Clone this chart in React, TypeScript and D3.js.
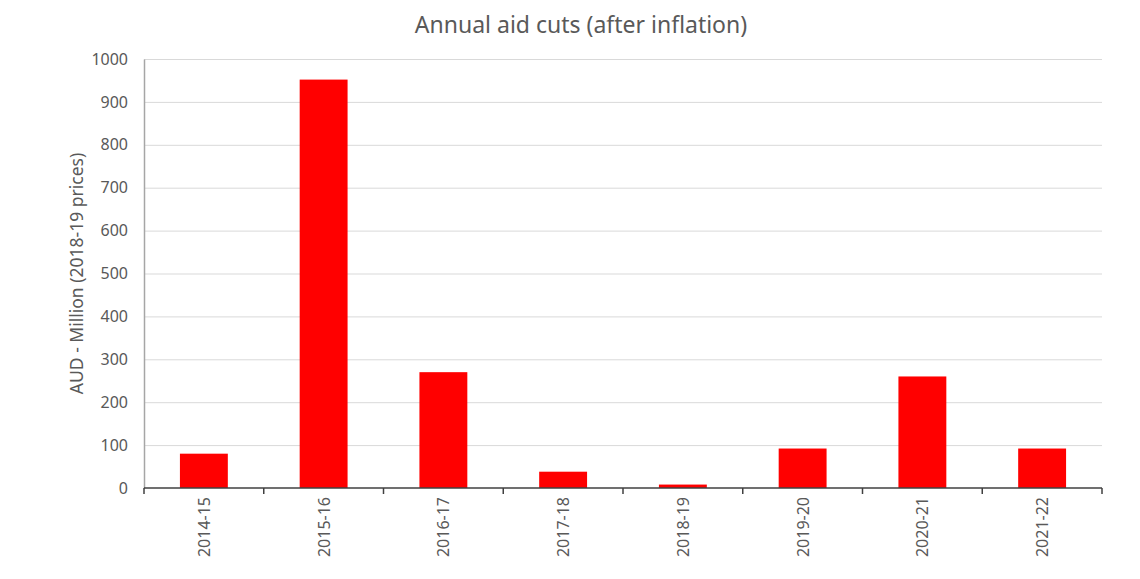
import React, { useEffect, useRef } from "react";
import * as d3 from "d3";

const years = ["2014-15", "2015-16", "2016-17", "2017-18", "2018-19", "2019-20", "2020-21", "2021-22"];
const cuts = [80, 952, 270, 38, 8, 92, 260, 92];
const yTicks = [0, 100, 200, 300, 400, 500, 600, 700, 800, 900, 1000];

const W = 1140;
const H = 579;
const margin = { top: 59, right: 38, bottom: 91, left: 144 };
const font = "'Noto Sans', sans-serif";

function App() {
  const ref = useRef<SVGSVGElement>(null);

  useEffect(() => {
    if (!ref.current) return;
    const svg = d3.select(ref.current);
    svg.selectAll("*").remove();

    const x = d3
      .scaleBand()
      .domain(years)
      .range([margin.left, W - margin.right])
      .paddingInner(0.6)
      .paddingOuter(0.3);

    const y = d3
      .scaleLinear()
      .domain([0, 1000])
      .range([H - margin.bottom, margin.top]);

    // gridlines
    svg
      .append("g")
      .selectAll("line")
      .data(yTicks.filter((t) => t > 0))
      .join("line")
      .attr("x1", margin.left)
      .attr("x2", W - margin.right)
      .attr("y1", (d) => y(d) + 0.5)
      .attr("y2", (d) => y(d) + 0.5)
      .attr("stroke", "#d9d9d9")
      .attr("stroke-width", 1);

    // y axis
    const yAxis = svg
      .append("g")
      .attr("transform", `translate(${margin.left},0)`)
      .call(d3.axisLeft(y).tickValues(yTicks).tickFormat(d3.format("d")).tickSize(0).tickPadding(16));
    yAxis.select(".domain").attr("stroke", "#a6a6a6").attr("stroke-width", 1.5);
    yAxis.selectAll("text").style("font", `16px ${font}`).attr("fill", "#595959");

    // bars
    svg
      .append("g")
      .selectAll("rect")
      .data(years)
      .join("rect")
      .attr("x", (d) => x(d)!)
      .attr("width", x.bandwidth())
      .attr("y", (d, i) => y(cuts[i]))
      .attr("height", (d, i) => y(0) - y(cuts[i]))
      .attr("fill", "#ff0000");

    // x axis
    const step = x.step();
    const xg = svg.append("g").attr("transform", `translate(0,${y(0)})`);
    xg.append("line")
      .attr("x1", margin.left)
      .attr("x2", W - margin.right)
      .attr("stroke", "#404040")
      .attr("stroke-width", 1.5);
    xg.selectAll("line.tick")
      .data(d3.range(years.length + 1))
      .join("line")
      .attr("class", "tick")
      .attr("x1", (i) => margin.left + i * step)
      .attr("x2", (i) => margin.left + i * step)
      .attr("y1", 0)
      .attr("y2", 6)
      .attr("stroke", "#404040")
      .attr("stroke-width", 1.5);
    xg.selectAll("text")
      .data(years)
      .join("text")
      .attr("transform", (d) => `translate(${x(d)! + x.bandwidth() / 2 + 6},9) rotate(-90)`)
      .attr("text-anchor", "end")
      .style("font", `16px ${font}`)
      .attr("fill", "#595959")
      .text((d) => d);

    // title
    svg
      .append("text")
      .attr("x", 581)
      .attr("y", 33)
      .attr("text-anchor", "middle")
      .style("font", `23px ${font}`)
      .attr("fill", "#595959")
      .text("Annual aid cuts (after inflation)");

    // y title
    svg
      .append("text")
      .attr("transform", `translate(83,${(y(0) + y(1000)) / 2}) rotate(-90)`)
      .attr("text-anchor", "middle")
      .style("font", `17.5px ${font}`)
      .attr("fill", "#595959")
      .text("AUD - Million (2018-19 prices)");
  }, []);

  return (
    <div style={{ margin: -8 }}>
      <svg ref={ref} width={W} height={H} style={{ display: "block", background: "#fff" }} />
    </div>
  );
}

export default App;
